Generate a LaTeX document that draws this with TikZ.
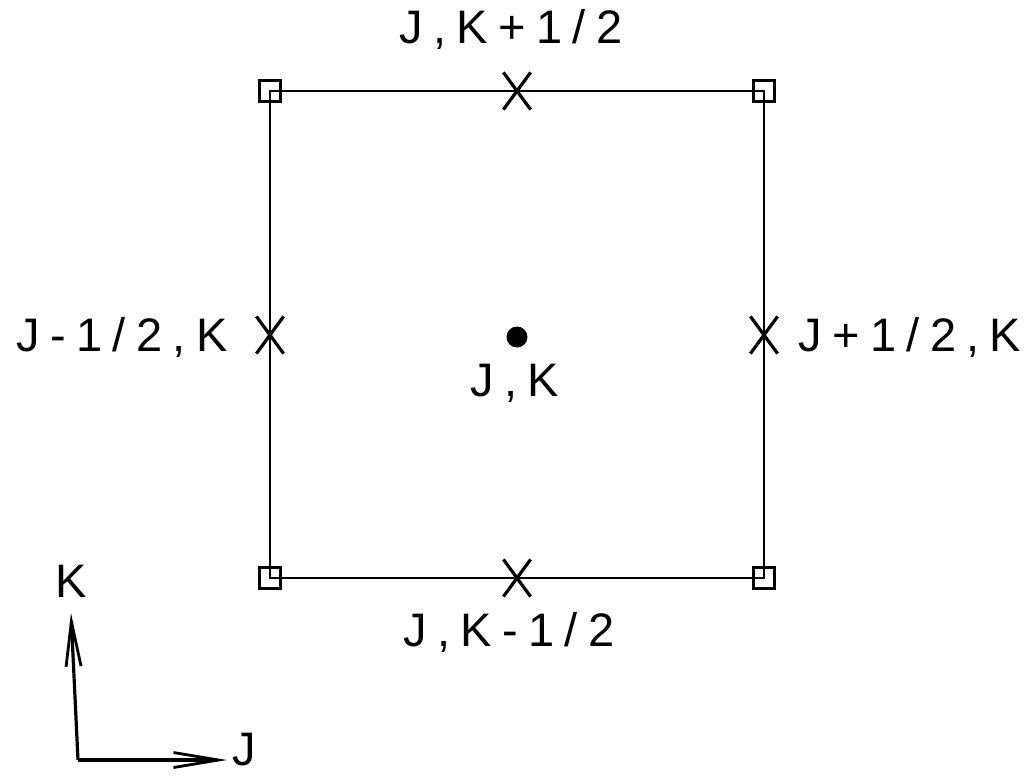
\documentclass[tikz,border=0pt]{standalone}
\usepackage{fontspec}
\setmainfont{Liberation Sans}[LetterSpace=22]
\usetikzlibrary{shapes.misc, arrows.meta}
\tikzstyle{corner} = [rectangle, draw=black, line width=2.8pt, minimum size=21pt, inner sep=0pt]
\tikzstyle{face} = [cross out, draw=black, line width=3.2pt, minimum width=24pt, minimum height=34pt, inner sep=0pt]
\tikzstyle{cell} = [circle, fill=black, minimum size=21pt, inner sep=0pt]
\tikzstyle{lbl} = [font=\fontsize{47}{47}\selectfont, inner sep=0pt]
\tikzstyle{axis} = [line width=3.2pt, -{Straight Barb[length=45pt, width=15pt, line width=2.8pt]}]

\begin{document}
\begin{tikzpicture}[x=1pt, y=-1pt]
    \useasboundingbox (0,0) rectangle (1028,776);

    % Nos
    \node (c1) [corner] at (270,91) {};
    \node (c2) [corner] at (764,91) {};
    \node (c3) [corner] at (270,578) {};
    \node (c4) [corner] at (764,578) {};

    \node (ft) [face] at (517,91) {};
    \node (fb) [face] at (517,578) {};
    \node (fl) [face] at (270,335) {};
    \node (fr) [face] at (764,335) {};

    \node (jk) [cell] at (517,337) {};

    \node (lt) [lbl] at (511,29) {J,K+1/2};
    \node (lb) [lbl] at (509,632) {J,K-1/2};
    \node (ll) [lbl] at (122,337) {J-1/2,K};
    \node (lr) [lbl] at (910,337) {J+1/2,K};
    \node (lc) [lbl] at (515,383) {J,K};

    \coordinate (o) at (78,760);
    \node (ak) [lbl] at (71,581) {K};
    \node (aj) [lbl] at (244,750) {J};

    % Conexoes
    \draw [line width=2.6pt] (c1.center) -- (c2.center) -- (c4.center) -- (c3.center) -- cycle;
    \draw [axis] (o) -- (ak.south |- 0,613);
    \draw [axis] (o) -- (227,760);

\end{tikzpicture}
\end{document}
